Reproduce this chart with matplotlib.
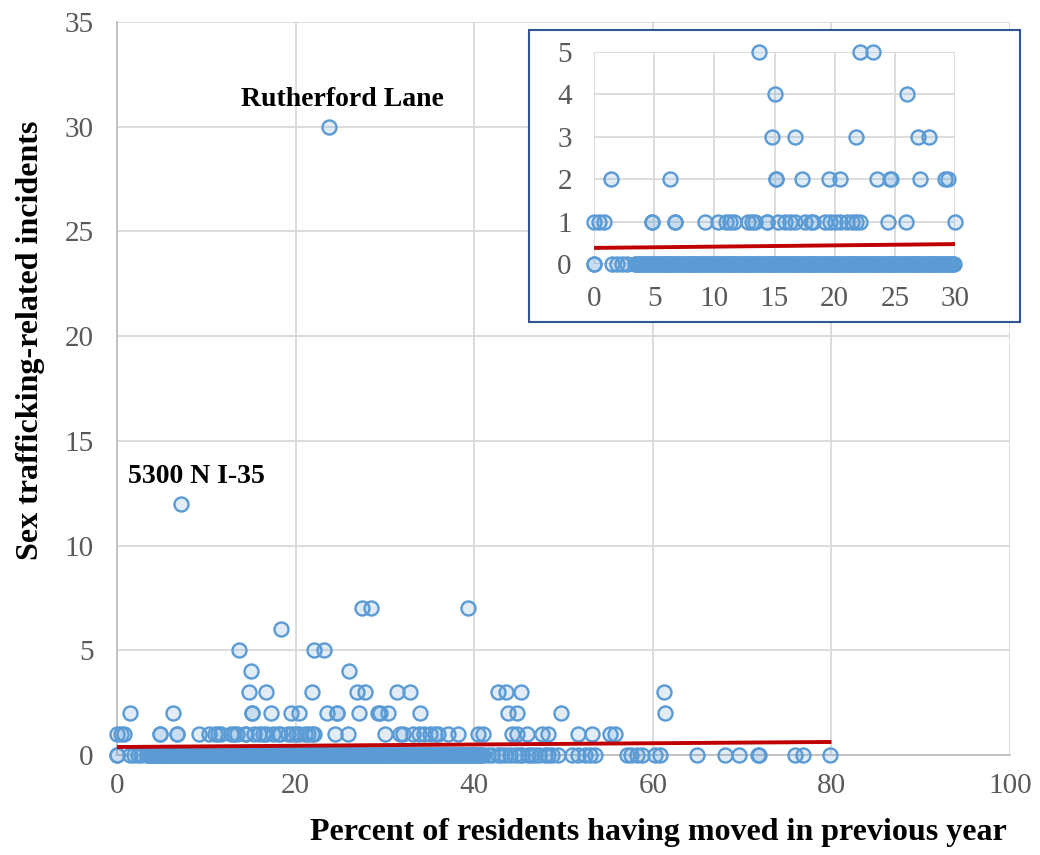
import matplotlib
matplotlib.use("Agg")
import matplotlib.pyplot as plt
from matplotlib.patches import Rectangle

plt.rcParams['font.family'] = ['Liberation Serif', 'DejaVu Serif']

# ---- data (x = percent of residents having moved in previous year) ----
x_inc0 = [0.0, 0.0, 1.5, 1.9, 2.3, 2.7,
          3.4, 3.5, 3.65, 3.8, 3.9, 4.05, 4.2, 4.3, 4.45, 4.6, 4.75, 4.9,
          5.0, 5.15, 5.3, 5.4, 5.55, 5.7, 5.85, 5.95,
          6.1, 6.2, 6.35, 6.5, 6.6, 6.75, 6.9,
          7.0, 7.15, 7.3, 7.45, 7.55, 7.7, 7.85, 7.95,
          8.1, 8.25, 8.35, 8.5, 8.65, 8.8, 8.9,
          9.05, 9.2, 9.3, 9.45, 9.6, 9.75, 9.85,
          10.0, 10.15, 10.3, 10.4, 10.55, 10.7, 10.8, 10.95,
          11.1, 11.2, 11.35, 11.5, 11.65, 11.75, 11.9,
          12.05, 12.15, 12.3, 12.45, 12.6, 12.7, 12.85,
          13.0, 13.1, 13.25, 13.4, 13.55, 13.65, 13.8, 13.95,
          14.05, 14.2, 14.35, 14.5, 14.6, 14.75, 14.9,
          15.0, 15.15, 15.3, 15.45, 15.55, 15.7, 15.85, 15.95,
          16.1, 16.25, 16.4, 16.5, 16.65, 16.8, 16.9,
          17.05, 17.2, 17.35, 17.45, 17.6, 17.75, 17.85,
          18.0, 18.15, 18.3, 18.4, 18.55, 18.7, 18.8, 18.95,
          19.1, 19.25, 19.35, 19.5, 19.65, 19.75, 19.9,
          20.05, 20.2, 20.3, 20.45, 20.6, 20.7, 20.85,
          21.0, 21.15, 21.25, 21.4, 21.55, 21.65, 21.8, 21.95,
          22.1, 22.2, 22.35, 22.5, 22.6, 22.75, 22.9,
          23.05, 23.15, 23.3, 23.45, 23.55, 23.7, 23.85,
          24.0, 24.1, 24.25, 24.4, 24.5, 24.65, 24.8, 24.95,
          25.05, 25.2, 25.35, 25.45, 25.6, 25.75, 25.9,
          26.0, 26.15, 26.3, 26.4, 26.55, 26.7, 26.85, 26.95,
          27.1, 27.25, 27.35, 27.5, 27.65, 27.8, 27.9,
          28.05, 28.2, 28.3, 28.45, 28.6, 28.75, 28.85,
          29.0, 29.15, 29.25, 29.4, 29.55, 29.7, 29.8, 29.95,
          30.1, 30.3, 30.45, 30.6, 30.8, 30.95,
          31.1, 31.3, 31.45, 31.6, 31.8, 31.95,
          32.1, 32.3, 32.5, 32.65, 32.8, 33.0,
          33.15, 33.3, 33.5, 33.7, 33.85, 34.0,
          34.2, 34.35, 34.55, 34.7, 34.9, 35.05,
          35.2, 35.4, 35.6, 35.75, 35.9, 36.1,
          36.3, 36.45, 36.6, 36.8, 37.0, 37.15,
          37.3, 37.5, 37.7, 37.85, 38.0, 38.2,
          38.4, 38.55, 38.7, 38.9, 39.1, 39.25,
          39.4, 39.6, 39.8, 39.95, 40.1, 40.3,
          40.5, 40.65, 40.8, 41.0,
          41.5, 42.0, 42.7, 43.0, 43.4, 44.0, 44.6, 45.0, 45.4, 46.0, 46.4, 46.8,
          47.3, 47.9, 48.3, 48.7, 49.4, 50.9, 51.6, 52.4, 53.0, 53.5,
          57.1, 57.6, 58.2, 58.8, 60.2, 60.8, 65.0, 68.1, 69.6, 71.8, 71.9,
          75.9, 76.8, 79.8]
x_inc1 = [0.0, 0.4, 0.8, 4.8, 4.85, 6.7, 6.75, 9.2, 10.3, 11.0, 11.3, 11.6, 12.8, 13.1,
          13.4, 14.35, 14.4, 15.3, 15.9, 16.3, 16.7, 17.5, 18.0, 18.2, 19.2, 19.6, 20.0,
          20.4, 21.0, 21.4, 21.8, 22.1, 24.4, 25.9, 30.0, 31.7, 32.0, 33.2, 33.8, 34.4,
          35.0, 35.6, 36.0, 37.1, 38.2, 40.4, 41.0, 44.2, 44.8, 45.9, 47.6, 48.3, 51.6,
          53.2, 55.2, 55.8]
x_inc2 = [1.4, 6.3, 15.1, 15.15, 17.3, 19.5, 20.4, 23.5, 24.6, 24.65, 27.1, 29.2, 29.4,
          30.4, 33.9, 43.8, 44.8, 49.7, 61.4]
x_inc3 = [14.8, 16.7, 21.8, 26.9, 27.8, 31.3, 32.8, 42.7, 43.6, 45.2, 61.3]
x_inc4 = [15.0, 26.0]
x_inc5 = [13.7, 22.1, 23.2]
x_inc6 = [18.4]
x_inc7 = [27.4, 28.4, 39.3]
x_inc12 = [7.2]
x_inc30 = [23.7]

groups = [(0, x_inc0), (1, x_inc1), (2, x_inc2), (3, x_inc3), (4, x_inc4),
          (5, x_inc5), (6, x_inc6), (7, x_inc7), (12, x_inc12), (30, x_inc30)]
xs = [x for _, g in groups for x in g]
ys = [y for y, g in groups for _ in g]

trend_x = [0, 80]
trend_y = [0.38, 0.62]

outlier_labels = ["Rutherford Lane", "5300 N I-35"]

# ---- styling ----
edge = '#5B9BD5'
face = (0.357, 0.608, 0.835, 0.18)
red = '#C00000'
grid_c = '#D9D9D9'
tick_c = '#595959'

fig = plt.figure(figsize=(10.4, 8.55), dpi=100)
ax = fig.add_axes([0.1125, 0.117, 0.8587, 0.8573])
ax.set_xlim(0, 100)
ax.set_ylim(0, 35)
ax.set_xticks(range(0, 101, 20))
ax.set_yticks(range(0, 36, 5))
ax.grid(True, color=grid_c, linewidth=1.3)
ax.set_axisbelow(True)
for s in ['top', 'right']:
    ax.spines[s].set_visible(False)
for s in ['left', 'bottom']:
    ax.spines[s].set_color('#BFBFBF')
    ax.spines[s].set_linewidth(1.3)
ax.tick_params(length=0, labelsize=21, colors=tick_c)
ax.tick_params(axis='x', pad=13)
ax.tick_params(axis='y', pad=17)

ax.scatter(xs, ys, s=102, facecolor=face, edgecolor=edge, linewidth=1.7,
           clip_on=False, zorder=3)
ax.plot(trend_x, trend_y, color=red, linewidth=2.8, zorder=4, solid_capstyle='butt')

ax.text(13.85, 31.28, outlier_labels[0], fontsize=20, fontweight='bold',
        ha='left', va='center')
ax.text(1.2, 13.29, outlier_labels[1], fontsize=20, fontweight='bold',
        ha='left', va='center')

fig.text(0.6327, 0.026, "Percent of residents having moved in previous year",
         fontsize=23, fontweight='bold', ha='center', va='center')
fig.text(0.029, 0.602, "Sex trafficking-related incidents", fontsize=23,
         fontweight='bold', ha='center', va='center', rotation=90)

# ---- inset ----
box = Rectangle((0.5087, 0.6234), 0.4721, 0.3415, transform=fig.transFigure,
                facecolor='white', edgecolor='#2F5597', linewidth=1.5, zorder=5)
fig.patches.append(box)

ins = fig.add_axes([0.5712, 0.6912, 0.3471, 0.248], zorder=6)
ins.set_facecolor('none')
ins.set_xlim(0, 30)
ins.set_ylim(0, 5)
ins.set_xticks(range(0, 31, 5))
ins.set_yticks(range(0, 6))
ins.grid(True, color=grid_c, linewidth=1.3)
ins.set_axisbelow(True)
for s in ins.spines.values():
    s.set_visible(False)
ins.tick_params(length=0, labelsize=21, colors=tick_c)
ins.tick_params(axis='x', pad=16)
ins.tick_params(axis='y', pad=16)

ixs = [x for x, y in zip(xs, ys) if x <= 30.0 and y <= 5]
iys = [y for x, y in zip(xs, ys) if x <= 30.0 and y <= 5]
ins.scatter(ixs, iys, s=102, facecolor=face, edgecolor=edge, linewidth=1.7,
            clip_on=False, zorder=3)
slope = (trend_y[1] - trend_y[0]) / (trend_x[1] - trend_x[0])
ins.plot([0, 30], [trend_y[0], trend_y[0] + slope * 30], color=red,
         linewidth=2.8, zorder=4, solid_capstyle='butt')

fig.savefig('out.png', dpi=100)
